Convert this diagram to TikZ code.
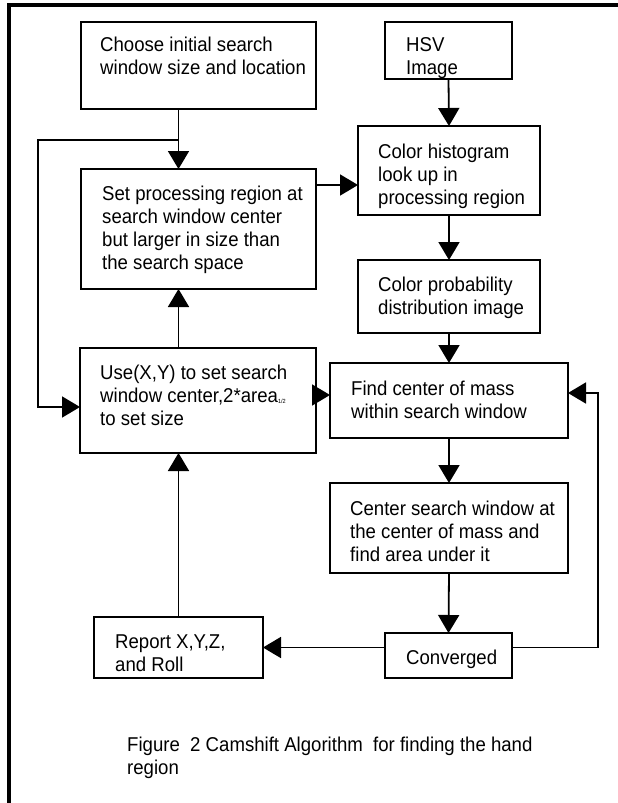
\documentclass[tikz,border=0pt]{standalone}
\usepackage{fontspec}
\setmainfont[FakeStretch=0.93]{Liberation Sans}
\usetikzlibrary{arrows.meta}
\begin{document}
\begin{tikzpicture}[x=1pt,y=-1pt,
  box/.style={draw, line width=1.8pt, anchor=north west, inner sep=0pt, outer sep=0pt},
  txt/.style={anchor=north west, inner sep=0pt, align=left, font=\fontsize{20}{23}\selectfont},
  conn/.style={line width=1.8pt, -{Triangle[length=18pt,width=21pt]}},
  plain/.style={line width=1.8pt}]
\useasboundingbox (0,0) rectangle (618,803);
% frame
\draw[line width=4pt] (7,4.5) -- (618,4.5);
\draw[line width=3.5pt] (9,3) -- (9,803);
% boxes
\node[box, minimum width=235pt, minimum height=87pt]  (b1)   at (81,22)  {};
\node[box, minimum width=127pt, minimum height=57pt]  (hsv)  at (385,22) {};
\node[box, minimum width=182pt, minimum height=89pt]  (hist) at (358,126) {};
\node[box, minimum width=235pt, minimum height=120pt] (set)  at (81,169) {};
\node[box, minimum width=182pt, minimum height=73pt]  (prob) at (358,260) {};
\node[box, minimum width=236pt, minimum height=105pt] (use)  at (80,348) {};
\node[box, minimum width=238pt, minimum height=75pt]  (find) at (330,363) {};
\node[box, minimum width=238pt, minimum height=90pt]  (cen)  at (330,483) {};
\node[box, minimum width=127pt, minimum height=45pt]  (conv) at (385,633) {};
\node[box, minimum width=169pt, minimum height=61pt]  (rep)  at (94,617) {};
% texts
\node[txt] (t1)   at (100,37)  {Choose initial search\\window size and location};
\node[txt] (thsv) at (406,37)  {HSV\\Image};
\node[txt] (thist) at (378,144) {Color histogram\\look up in\\processing region};
\node[txt] (tset) at (102,186) {Set processing region at\\search window center\\but larger in size than\\the search space};
\node[txt] (tprob) at (378,277) {Color probability\\distribution image};
\node[txt] (tuse) at (100,365) {Use(X,Y) to set search\\window center,2*area\raisebox{-0.5pt}{\fontsize{6}{6}\selectfont 1/2}\\to set size};
\node[txt] (tfind) at (351,381) {Find center of mass\\within search window};
\node[txt] (tcen) at (350,501) {Center search window at\\the center of mass and\\find area under it};
\node[txt] (tconv) at (406,650) {Converged};
\node[txt] (trep) at (115,635) {Report X,Y,Z,\\and Roll};
\node[txt] (cap) at (127,737) {Figure\ \ 2 Camshift Algorithm\ \ for finding the hand\\region};
% helper coordinates
\coordinate (j1) at (178.5,140);
\coordinate (lp) at (38,140);
\coordinate (ly) at (0,407);
\coordinate (hy) at (0,185);
\coordinate (my) at (0,395);
\coordinate (rl) at (598,393);
% connectors
\draw[conn] (b1.south -| j1) -- (set.north -| j1);
\draw[conn] (j1) -- (lp) |- (ly -| use.west);
\draw[conn] (hsv.south) -- (hist.north);
\draw[conn] (hy -| set.east) -- (hy -| hist.west);
\draw[conn] (hist.south) -- (prob.north);
\draw[conn] (prob.south) -- (find.north);
\draw[conn] (use.north -| j1) -- (set.south -| j1);
\draw[conn] (my -| use.east) -- (my -| find.west);
\draw[conn] (find.south) -- (cen.north);
\draw[conn] (cen.south) -- (conv.north);
\draw[conn] (conv.west |- rep.east) -- (rep.east);
\draw[conn] (conv.east |- rep.east) -| (rl) -- (rl -| find.east);
\draw[conn] (rep.north) -- (use.south -| rep.north);
\end{tikzpicture}
\end{document}
